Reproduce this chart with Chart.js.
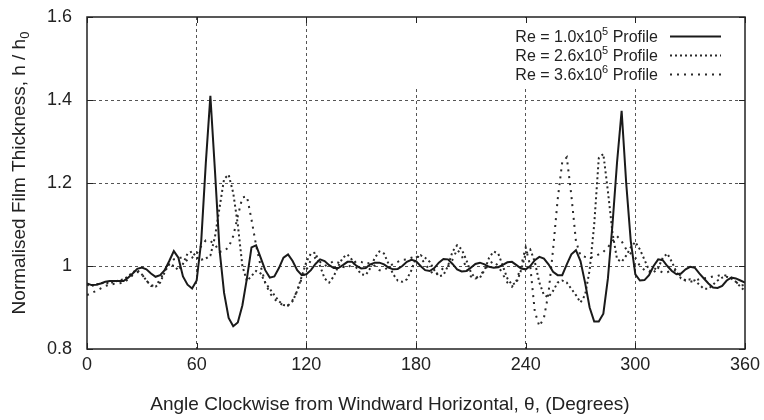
<!DOCTYPE html>
<html>
<head>
<meta charset="utf-8">
<script src="https://cdn.jsdelivr.net/npm/chart.js@4.4.1/dist/chart.umd.min.js"></script>
<style>
  html, body { margin: 0; padding: 0; background: #fff; }
  #wrap { width: 764px; height: 420px; }
</style>
</head>
<body>
<div id="wrap"><canvas id="myChart" width="764" height="420"></canvas></div>
<script>
// angle samples (degrees)
const angles = [
  0, 2.5, 5, 7.5, 10, 12.5, 15, 17.5, 20, 22.5, 25, 27.5, 30, 32.5, 35, 37.5, 40, 42.5, 45, 47.5,
  50, 52.5, 55, 57.5, 60, 62.5, 65, 67.5, 70, 72.5, 75, 77.5, 80, 82.5, 85, 87.5, 90, 92.5, 95, 97.5,
  100, 102.5, 105, 107.5, 110, 112.5, 115, 117.5, 120, 122.5, 125, 127.5, 130, 132.5, 135, 137.5, 140, 142.5, 145, 147.5,
  150, 152.5, 155, 157.5, 160, 162.5, 165, 167.5, 170, 172.5, 175, 177.5, 180, 182.5, 185, 187.5, 190, 192.5, 195, 197.5,
  200, 202.5, 205, 207.5, 210, 212.5, 215, 217.5, 220, 222.5, 225, 227.5, 230, 232.5, 235, 237.5, 240, 242.5, 245, 247.5,
  250, 252.5, 255, 257.5, 260, 262.5, 265, 267.5, 270, 272.5, 275, 277.5, 280, 282.5, 285, 287.5, 290, 292.5, 295, 297.5,
  300, 302.5, 305, 307.5, 310, 312.5, 315, 317.5, 320, 322.5, 325, 327.5, 330, 332.5, 335, 337.5, 340, 342.5, 345, 347.5,
  350, 352.5, 355, 357.5, 360
];

// Re = 1.0x10^5
const re1e5 = [
  0.958, 0.954, 0.955, 0.958, 0.962, 0.964, 0.964, 0.964, 0.964, 0.972, 0.982, 0.993, 0.996, 0.992, 0.982, 0.974, 0.978, 0.990, 1.012, 1.036,
  1.020, 0.975, 0.955, 0.946, 0.965, 1.060, 1.248, 1.410, 1.230, 1.040, 0.935, 0.875, 0.855, 0.864, 0.905, 0.970, 1.045, 1.050, 1.020, 0.990,
  0.972, 0.975, 0.995, 1.020, 1.028, 1.012, 0.990, 0.978, 0.980, 0.990, 1.005, 1.016, 1.012, 1.002, 0.995, 0.995, 1.002, 1.010, 1.010, 1.000,
  0.994, 0.995, 1.004, 1.008, 1.008, 1.004, 0.996, 0.992, 0.993, 1.000, 1.010, 1.015, 1.012, 1.000, 0.990, 0.988, 0.995, 1.008, 1.017, 1.016,
  1.005, 0.992, 0.987, 0.988, 0.996, 1.005, 1.008, 1.004, 0.998, 0.996, 0.997, 1.003, 1.009, 1.010, 1.002, 0.994, 0.992, 1.000, 1.014, 1.022,
  1.018, 1.004, 0.986, 0.978, 0.978, 1.004, 1.028, 1.038, 1.012, 0.960, 0.900, 0.866, 0.866, 0.885, 0.970, 1.100, 1.250, 1.374, 1.200, 1.060,
  0.980, 0.965, 0.966, 0.978, 1.000, 1.016, 1.014, 1.000, 0.988, 0.980, 0.982, 0.992, 0.998, 0.996, 0.982, 0.970, 0.958, 0.948, 0.947, 0.952,
  0.965, 0.972, 0.970, 0.965, 0.960
];

// Re = 2.6x10^5
const re26e5 = [
  0.955, 0.952, 0.955, 0.958, 0.960, 0.958, 0.962, 0.965, 0.968, 0.975, 0.985, 0.990, 0.980, 0.965, 0.952, 0.950, 0.960, 0.985, 1.005, 1.000,
  0.990, 1.005, 1.030, 1.035, 1.020, 1.015, 1.018, 1.025, 1.070, 1.140, 1.210, 1.220, 1.176, 1.100, 1.000, 0.964, 0.976, 0.988, 0.982, 0.960,
  0.945, 0.930, 0.915, 0.906, 0.905, 0.915, 0.940, 0.975, 1.010, 1.030, 1.032, 1.000, 0.970, 0.960, 0.975, 1.000, 1.020, 1.028, 1.015, 0.995,
  0.980, 0.978, 0.995, 1.020, 1.035, 1.030, 1.005, 0.980, 0.965, 0.962, 0.968, 0.990, 1.020, 1.026, 1.020, 1.010, 0.990, 0.975, 0.978, 1.000,
  1.035, 1.050, 1.040, 1.015, 0.985, 0.970, 0.972, 0.990, 1.020, 1.035, 1.030, 1.000, 0.970, 0.955, 0.960, 0.990, 1.030, 1.040, 1.010, 0.960,
  0.930, 0.925, 0.940, 0.960, 0.965, 0.960, 0.945, 0.930, 0.912, 0.930, 0.990, 1.100, 1.260, 1.270, 1.180, 1.080, 1.016, 1.010, 1.025, 1.045,
  1.058, 1.040, 1.015, 0.990, 0.985, 0.995, 1.020, 1.030, 1.010, 0.985, 0.970, 0.965, 0.968, 0.965, 0.955, 0.945, 0.945, 0.955, 0.965, 0.972,
  0.974, 0.970, 0.962, 0.950, 0.940
];

// Re = 3.6x10^6
const re36e6 = [
  0.930, 0.935, 0.940, 0.946, 0.952, 0.955, 0.957, 0.958, 0.960, 0.968, 0.978, 0.986, 0.980, 0.965, 0.952, 0.955, 0.965, 0.990, 1.005, 1.016,
  1.020, 1.020, 1.012, 1.020, 1.030, 1.048, 1.062, 1.060, 1.052, 1.034, 1.036, 1.045, 1.072, 1.120, 1.165, 1.168, 1.112, 1.050, 1.000, 0.960,
  0.935, 0.920, 0.912, 0.905, 0.905, 0.918, 0.940, 0.970, 0.990, 1.015, 1.020, 1.010, 1.000, 1.005, 1.012, 1.008, 0.998, 0.995, 1.005, 1.012,
  1.010, 1.005, 1.008, 1.000, 0.990, 0.990, 0.998, 1.005, 1.010, 1.015, 1.016, 1.020, 1.024, 1.020, 1.005, 0.990, 0.978, 0.985, 0.995, 1.000,
  1.015, 1.040, 1.025, 0.995, 0.975, 0.970, 0.978, 0.990, 1.005, 1.012, 1.000, 0.980, 0.960, 0.950, 0.965, 1.000, 1.045, 1.000, 0.890, 0.855,
  0.875, 0.935, 1.040, 1.160, 1.250, 1.262, 1.170, 1.060, 1.025, 1.022, 1.020, 1.022, 1.028, 1.034, 1.045, 1.060, 1.072, 1.060, 1.040, 1.030,
  1.020, 1.000, 0.990, 0.985, 0.995, 0.990, 0.984, 0.985, 0.990, 0.988, 0.975, 0.965, 0.962, 0.965, 0.968, 0.970, 0.972, 0.975, 0.976, 0.980,
  0.976, 0.972, 0.962, 0.952, 0.955
];

const xTicks = [0, 60, 120, 180, 240, 300, 360];
const yTicks = [0.8, 1.0, 1.2, 1.4, 1.6];
const yTickLabels = ['0.8', '1', '1.2', '1.4', '1.6'];
const legendBase = ['Re = 1.0x10', 'Re = 2.6x10', 'Re = 3.6x10'];
const legendExp = ['5', '5', '6'];
const xTitle = 'Angle Clockwise from Windward Horizontal, \u03b8, (Degrees)';
const yTitle = ['Normalised Film Thickness, h / h', '0'];

const FONT = '"Liberation Sans", Arial, sans-serif';
Chart.defaults.font.family = FONT;
Chart.defaults.color = '#222';

const toPts = vals => angles.map((a, i) => ({ x: a, y: vals[i] }));

// grid gaps behind the key, inward tick marks, frame, titles and key (gnuplot look)
const gnuplotLook = {
  id: 'gnuplotLook',
  beforeDatasetsDraw(chart) {
    const { ctx, chartArea: a } = chart;
    ctx.save();
    ctx.fillStyle = '#fff';
    ctx.fillRect(400, a.top + 1, a.right - 401, 69);
    ctx.restore();
  },
  afterDraw(chart) {
    const { ctx, chartArea: a, scales: { x, y } } = chart;
    ctx.save();
    ctx.strokeStyle = '#222';
    ctx.lineWidth = 1;
    ctx.setLineDash([]);
    ctx.beginPath();
    xTicks.forEach(v => {
      const px = Math.round(x.getPixelForValue(v)) + 0.5;
      ctx.moveTo(px, a.bottom); ctx.lineTo(px, a.bottom - 6);
      ctx.moveTo(px, a.top); ctx.lineTo(px, a.top + 6);
    });
    yTicks.forEach(v => {
      const py = Math.round(y.getPixelForValue(v)) + 0.5;
      ctx.moveTo(a.left, py); ctx.lineTo(a.left + 6, py);
      ctx.moveTo(a.right, py); ctx.lineTo(a.right - 6, py);
    });
    ctx.stroke();
    ctx.lineWidth = 1.5;
    ctx.strokeRect(a.left, a.top, a.right - a.left, a.bottom - a.top);

    ctx.fillStyle = '#222';
    // x title
    ctx.font = '19px ' + FONT;
    ctx.textAlign = 'center';
    ctx.textBaseline = 'middle';
    ctx.fillText(xTitle, (a.left + a.right) / 2 - 26, 405);
    // y title with subscript
    ctx.save();
    ctx.translate(20, (a.top + a.bottom) / 2 - 10);
    ctx.rotate(-Math.PI / 2);
    ctx.textAlign = 'left';
    ctx.textBaseline = 'middle';
    ctx.font = '19px ' + FONT;
    const tw = ctx.measureText(yTitle[0]).width;
    ctx.font = '13px ' + FONT;
    const sw = ctx.measureText(yTitle[1]).width;
    const x0 = -(tw + sw) / 2;
    ctx.font = '19px ' + FONT;
    ctx.fillText(yTitle[0], x0, 0);
    ctx.font = '13px ' + FONT;
    ctx.fillText(yTitle[1], x0 + tw, 5);
    ctx.restore();

    // key
    const mainFont = '16px ' + FONT;
    const supFont = '11px ' + FONT;
    const textRight = a.right - 87;
    legendBase.forEach((base, i) => {
      const yb = a.top + 25 + i * 19;
      ctx.font = mainFont;
      const w1 = ctx.measureText(base).width;
      const w3 = ctx.measureText(' Profile').width;
      ctx.font = supFont;
      const w2 = ctx.measureText(legendExp[i]).width;
      const xs = textRight - (w1 + w2 + w3);
      ctx.fillStyle = '#222';
      ctx.textBaseline = 'alphabetic';
      ctx.textAlign = 'left';
      ctx.font = mainFont;
      ctx.fillText(base, xs, yb);
      ctx.font = supFont;
      ctx.fillText(legendExp[i], xs + w1, yb - 7);
      ctx.font = mainFont;
      ctx.fillText(' Profile', xs + w1 + w2, yb);

      const ds = chart.data.datasets[i];
      ctx.strokeStyle = ds.borderColor;
      ctx.lineWidth = ds.borderWidth;
      ctx.setLineDash(ds.borderDash || []);
      ctx.beginPath();
      ctx.moveTo(textRight + 12, yb - 5.5);
      ctx.lineTo(textRight + 63, yb - 5.5);
      ctx.stroke();
    });
    ctx.restore();
  }
};

const gridColor = ends => c => (c.tick && ends.includes(c.tick.value)) ? 'rgba(0,0,0,0)' : '#555';
const noPad = s => { s.paddingTop = 0; s.paddingBottom = 0; s.paddingLeft = 0; s.paddingRight = 0; };

new Chart(document.getElementById('myChart').getContext('2d'), {
  type: 'line',
  data: {
    datasets: [
      { label: 'Re = 1.0x10^5 Profile', data: toPts(re1e5), borderColor: '#1a1a1a', borderWidth: 2, pointRadius: 0, tension: 0, fill: false },
      { label: 'Re = 2.6x10^5 Profile', data: toPts(re26e5), borderColor: '#2a2a2a', borderWidth: 2, borderDash: [2, 3], pointRadius: 0, tension: 0, fill: false },
      { label: 'Re = 3.6x10^6 Profile', data: toPts(re36e6), borderColor: '#2a2a2a', borderWidth: 2, borderDash: [2, 5], pointRadius: 0, tension: 0, fill: false }
    ]
  },
  options: {
    responsive: false,
    animation: false,
    devicePixelRatio: 1,
    layout: { padding: { top: 17, right: 19, left: 0, bottom: 0 } },
    plugins: { legend: { display: false }, tooltip: { enabled: false } },
    scales: {
      x: {
        type: 'linear', min: 0, max: 360,
        afterBuildTicks: s => { s.ticks = xTicks.map(v => ({ value: v })); },
        afterFit: s => { s.height = 71; noPad(s); },
        ticks: { font: { size: 18 }, color: '#222', padding: 5, maxRotation: 0 },
        grid: { color: gridColor([0, 360]), lineWidth: 1, drawTicks: false },
        border: { display: false, dash: [3, 3] }
      },
      y: {
        type: 'linear', min: 0.8, max: 1.6,
        afterBuildTicks: s => { s.ticks = yTicks.map(v => ({ value: v })); },
        afterFit: s => { s.width = 87; noPad(s); },
        ticks: { font: { size: 18 }, color: '#222', padding: 15, callback: (v, i) => yTickLabels[i] },
        grid: { color: gridColor([0.8, 1.6]), lineWidth: 1, drawTicks: false },
        border: { display: false, dash: [3, 3] }
      }
    }
  },
  plugins: [gnuplotLook]
});
</script>
</body>
</html>
